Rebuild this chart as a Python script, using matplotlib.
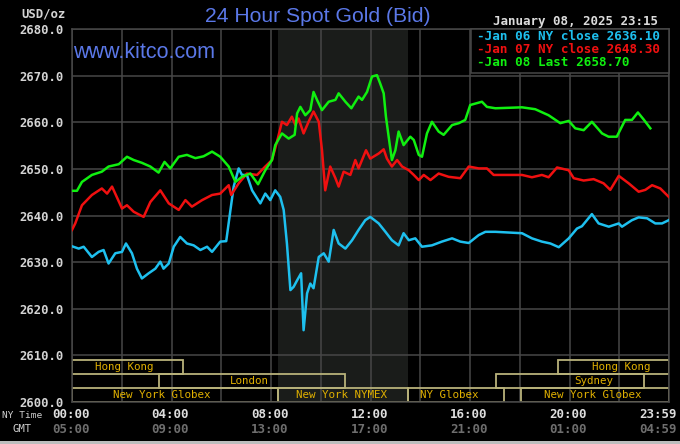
import matplotlib
matplotlib.use("Agg")
import matplotlib.pyplot as plt
from matplotlib.patches import Rectangle
from matplotlib.transforms import blended_transform_factory

# ---------------- data ----------------
jan06 = [(0, 2633.4), (0.27, 2632.9), (0.47, 2633.3), (0.8, 2631.1), (1.07, 2632.2), (1.27, 2632.6),
         (1.47, 2629.7), (1.74, 2631.9), (2.01, 2632.2), (2.17, 2634.0), (2.41, 2631.9), (2.61, 2628.6),
         (2.81, 2626.5), (3.08, 2627.6), (3.35, 2628.6), (3.55, 2630.1), (3.68, 2628.6), (3.89, 2629.7),
         (4.09, 2633.3), (4.35, 2635.4), (4.62, 2634.0), (4.89, 2633.6), (5.16, 2632.6), (5.43, 2633.3),
         (5.63, 2632.2), (5.96, 2634.4), (6.2, 2634.5), (6.37, 2641.2), (6.5, 2646.2), (6.7, 2650.1),
         (6.83, 2648.7), (7.03, 2648.7), (7.24, 2645.4), (7.57, 2642.6), (7.77, 2644.7), (7.97, 2643.3),
         (8.17, 2645.4), (8.37, 2644.0), (8.51, 2641.2), (8.64, 2634.0), (8.78, 2624.0), (8.91, 2624.7),
         (9.05, 2626.1), (9.21, 2627.6), (9.31, 2615.4), (9.45, 2623.3), (9.58, 2625.4), (9.71, 2624.4),
         (9.92, 2631.1), (10.12, 2631.9), (10.32, 2630.1), (10.52, 2636.9), (10.72, 2634.0), (10.99, 2632.9),
         (11.26, 2634.7), (11.52, 2636.9), (11.79, 2639.0), (11.99, 2639.7), (12.33, 2638.3), (12.6, 2636.5),
         (12.86, 2634.7), (13.13, 2633.6), (13.33, 2636.2), (13.54, 2634.7), (13.8, 2635.1), (14.07, 2633.3),
         (14.47, 2633.6), (14.87, 2634.4), (15.28, 2635.1), (15.61, 2634.4), (15.95, 2634.1), (16.35, 2635.8),
         (16.62, 2636.5), (17.02, 2636.5), (18.09, 2636.2), (18.49, 2635.1), (18.89, 2634.4), (19.23, 2634.0),
         (19.57, 2633.2), (19.97, 2635.1), (20.3, 2637.2), (20.5, 2637.7), (20.9, 2640.3), (21.17, 2638.3),
         (21.58, 2637.6), (21.98, 2638.3), (22.11, 2637.6), (22.51, 2639.0), (22.78, 2639.6), (23.12, 2639.4),
         (23.45, 2638.3), (23.72, 2638.3), (23.99, 2639.0)]

jan07 = [(0, 2636.9), (0.13, 2638.3), (0.4, 2642.2), (0.8, 2644.4), (1.2, 2645.8), (1.41, 2644.7),
         (1.61, 2646.2), (2.01, 2641.5), (2.21, 2642.2), (2.48, 2640.8), (2.88, 2639.7), (3.15, 2642.9),
         (3.55, 2645.4), (3.89, 2642.6), (4.29, 2641.2), (4.56, 2643.3), (4.82, 2641.9), (5.23, 2643.3),
         (5.63, 2644.4), (5.96, 2644.7), (6.3, 2646.5), (6.4, 2644.4), (6.7, 2646.9), (7.03, 2649.0),
         (7.44, 2648.7), (7.77, 2650.5), (8.04, 2651.9), (8.24, 2655.8), (8.44, 2660.1), (8.64, 2659.4),
         (8.84, 2661.2), (8.98, 2659.4), (9.11, 2660.8), (9.31, 2657.6), (9.51, 2660.1), (9.71, 2662.3),
         (9.92, 2660.1), (10.05, 2654.0), (10.18, 2645.4), (10.38, 2650.5), (10.59, 2648.0), (10.72, 2646.2),
         (10.92, 2649.4), (11.19, 2648.7), (11.39, 2651.9), (11.52, 2650.1), (11.82, 2654.0), (11.99, 2652.2),
         (12.33, 2653.3), (12.53, 2654.2), (12.66, 2652.2), (12.86, 2650.5), (13.07, 2651.9), (13.27, 2650.5),
         (13.54, 2649.7), (13.74, 2648.7), (13.94, 2647.6), (14.14, 2648.7), (14.41, 2647.6), (14.74, 2649.0),
         (15.14, 2648.3), (15.61, 2648.0), (15.95, 2650.5), (16.35, 2650.1), (16.68, 2650.1), (16.95, 2648.7),
         (18.09, 2648.7), (18.49, 2648.2), (18.89, 2648.7), (19.16, 2648.2), (19.5, 2650.3), (19.97, 2649.7),
         (20.17, 2648.0), (20.57, 2647.5), (20.97, 2647.8), (21.37, 2646.9), (21.64, 2645.5), (21.98, 2648.5),
         (22.38, 2646.9), (22.78, 2645.1), (23.05, 2645.5), (23.32, 2646.5), (23.65, 2645.8), (23.99, 2644.0)]

jan08 = [(0, 2645.3), (0.2, 2645.3), (0.4, 2647.2), (0.8, 2648.7), (1.2, 2649.4), (1.47, 2650.5),
         (1.88, 2651.0), (2.21, 2652.6), (2.48, 2651.9), (2.81, 2651.3), (3.15, 2650.5), (3.48, 2649.2),
         (3.72, 2651.5), (3.95, 2650.1), (4.29, 2652.6), (4.62, 2653.0), (4.96, 2652.3), (5.29, 2652.7),
         (5.63, 2653.7), (5.96, 2652.6), (6.3, 2650.5), (6.57, 2647.2), (6.83, 2648.3), (7.17, 2649.0),
         (7.48, 2646.7), (7.77, 2649.7), (8.04, 2651.9), (8.17, 2655.1), (8.44, 2657.6), (8.71, 2656.5),
         (8.95, 2657.3), (9.05, 2661.9), (9.18, 2663.3), (9.38, 2661.5), (9.58, 2662.6), (9.71, 2666.5),
         (9.85, 2664.8), (10.05, 2662.6), (10.32, 2664.4), (10.59, 2664.8), (10.72, 2666.2), (10.99, 2664.4),
         (11.23, 2663.0), (11.52, 2665.5), (11.66, 2664.8), (11.86, 2666.5), (12.06, 2669.8), (12.26, 2670.1),
         (12.39, 2668.3), (12.53, 2666.2), (12.62, 2661.2), (12.73, 2656.9), (12.86, 2651.9), (13.0, 2654.0),
         (13.13, 2658.0), (13.33, 2655.1), (13.6, 2656.9), (13.74, 2656.2), (13.94, 2653.0), (14.07, 2652.6),
         (14.27, 2657.6), (14.47, 2660.1), (14.74, 2658.0), (14.94, 2657.3), (15.28, 2659.4), (15.55, 2659.8),
         (15.81, 2660.5), (16.01, 2663.7), (16.48, 2664.4), (16.68, 2663.3), (17.02, 2663.0), (18.09, 2663.2),
         (18.62, 2662.8), (19.16, 2661.5), (19.63, 2659.8), (19.97, 2660.3), (20.23, 2658.7), (20.57, 2658.3),
         (20.9, 2660.1), (21.31, 2657.6), (21.57, 2656.9), (21.9, 2656.9), (22.24, 2660.5), (22.51, 2660.5),
         (22.75, 2662.1), (22.98, 2660.6), (23.25, 2658.7)]

legend_labels = ["-Jan 06 NY close 2636.10", "-Jan 07 NY close 2648.30", "-Jan 08 Last 2658.70"]
series_colors = ["#1ec0ef", "#f01010", "#10f010"]

y_ticks = [2600, 2610, 2620, 2630, 2640, 2650, 2660, 2670, 2680]
ny_hours = [0, 4, 8, 12, 16, 20, 24]
ny_labels = ["00:00", "04:00", "08:00", "12:00", "16:00", "20:00", "23:59"]
gmt_labels = ["05:00", "09:00", "13:00", "17:00", "21:00", "01:00", "04:59"]

nymex_span = (8.3, 13.5)

# name, start hour, end hour, row (0 top), label hour
sessions = [("Hong Kong", 0, 4.46, 0, 2.09),
            ("London", 3.5, 10.97, 1, 7.12),
            ("New York Globex", 0, 8.3, 2, 3.62),
            ("New York NYMEX", 8.3, 13.5, 2, 10.85),
            ("NY Globex", 13.5, 17.37, 2, 15.16),
            ("New York Globex", 18.05, 24, 2, 20.94),
            ("Sydney", 17.05, 23.0, 1, 20.98),
            ("Hong Kong", 19.55, 24, 0, 22.07)]
row_edges = [(2606.1, 2609.0), (2603.1, 2606.1), (2600.0, 2603.1)]

# ---------------- figure ----------------
W, H = 680, 444
def fx(px): return px / W
def fy(py): return 1 - py / H

fig = plt.figure(figsize=(6.8, 4.44), dpi=100, facecolor="black")
L, R, T, B = 72, 669, 29, 402
ax = fig.add_axes([fx(L), fy(B), fx(R - L), (B - T) / H])
ax.set_facecolor("black")
ax.set_xlim(0, 24)
ax.set_ylim(2600, 2680)

grid_c = "#474747"
ax.axvspan(nymex_span[0], nymex_span[1], color="#1a1c1a", zorder=0, lw=0)
ax.set_xticks(list(range(0, 25, 2)))
ax.set_yticks(y_ticks)
ax.grid(True, color=grid_c, lw=1.1, zorder=1)
ax.set_axisbelow(True)
ax.tick_params(axis="x", length=0, labelbottom=False)
ax.tick_params(axis="y", length=0, pad=6, colors="#d4d4d4", labelsize=8.8)
ax.set_yticklabels([f"{v:.1f}" for v in y_ticks], family="DejaVu Sans Mono", weight="bold")
for s in ax.spines.values():
    s.set_color(grid_c)
    s.set_linewidth(1.1)

for data, c in zip([jan06, jan07, jan08], series_colors):
    xs = [p[0] for p in data]
    ys = [p[1] for p in data]
    ax.plot(xs, ys, color=c, lw=1.8, zorder=3, solid_joinstyle="round")

# session boxes
sess_edge = "#b8b27a"
sess_text = "#e0b000"
for name, s0, s1, row, lab in sessions:
    y0, y1 = row_edges[row]
    ax.add_patch(Rectangle((s0, y0), s1 - s0, y1 - y0, fill=False, ec=sess_edge, lw=1.3, zorder=2))
    ax.text(lab, (y0 + y1) / 2, name, ha="center", va="center", color=sess_text,
            family="DejaVu Sans Mono", fontsize=7.8, zorder=4)

# bottom time labels
tr = blended_transform_factory(ax.transData, fig.transFigure)
for h, nl, gl in zip(ny_hours, ny_labels, gmt_labels):
    xx = h - 0.05 if h < 24 else 23.55
    ax.text(xx, fy(414), nl, transform=tr, ha="center", va="center", color="#dedede",
            family="DejaVu Sans Mono", weight="bold", fontsize=9, clip_on=False)
    ax.text(xx, fy(429), gl, transform=tr, ha="center", va="center", color="#6e6e6e",
            family="DejaVu Sans Mono", weight="bold", fontsize=9, clip_on=False)
fig.text(fx(2), fy(415), "NY Time", ha="left", va="center", color="#cfcfcf",
         family="DejaVu Sans Mono", fontsize=6.8)
fig.text(fx(22), fy(429), "GMT", ha="center", va="center", color="#cfcfcf",
         family="DejaVu Sans Mono", fontsize=7.6)

# titles
fig.text(fx(318), fy(16), "24 Hour Spot Gold (Bid)", ha="center", va="center", color="#5b78e8",
         family="Liberation Sans", fontsize=15.2)
fig.text(fx(73), fy(53), "www.kitco.com", ha="left", va="center", color="#5b78e8",
         family="Liberation Sans", fontsize=15.5)
fig.text(fx(43), fy(14), "USD/oz", ha="center", va="center", color="#d4d4d4",
         family="DejaVu Sans Mono", weight="bold", fontsize=8.8)
fig.text(fx(658), fy(22), "January 08, 2025 23:15", ha="right", va="center", color="#dcdcdc",
         family="DejaVu Sans Mono", weight="bold", fontsize=9)

# legend box
box = Rectangle((fx(471), fy(73)), fx(669 - 471), (73 - 29) / H, transform=fig.transFigure,
                fc="black", ec=grid_c, lw=1.1, zorder=10)
fig.add_artist(box)
for i, (lbl, c) in enumerate(zip(legend_labels, series_colors)):
    fig.text(fx(477), fy(36 + 13.5 * i), lbl, ha="left", va="center", color=c,
             family="DejaVu Sans Mono", weight="bold", fontsize=9.1, zorder=11)

# bottom strip
fig.add_artist(Rectangle((0, 0), 1, 3 / H, transform=fig.transFigure, fc="#bdbdbd", ec="none", zorder=10))

fig.savefig("out.png", dpi=100, facecolor="black")
